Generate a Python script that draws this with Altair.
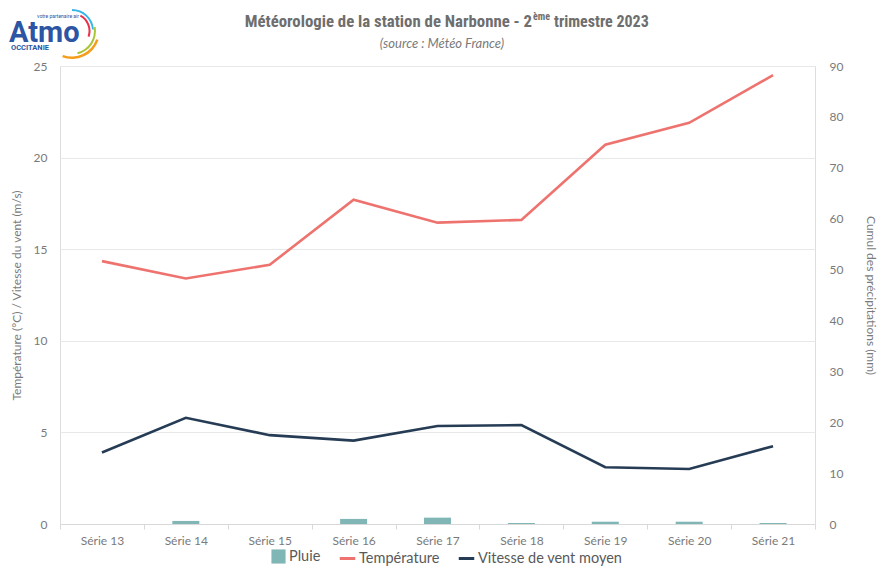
import altair as alt
import pandas as pd

series = ["Série 13", "Série 14", "Série 15", "Série 16", "Série 17",
          "Série 18", "Série 19", "Série 20", "Série 21"]
temperature = [14.35, 13.4, 14.15, 17.7, 16.45, 16.6, 20.7, 21.9, 24.5]
wind = [3.9, 5.8, 4.85, 4.55, 5.35, 5.4, 3.1, 3.0, 4.25]
rain = [0.0, 0.6, 0.0, 1.0, 1.25, 0.2, 0.45, 0.45, 0.2]

TEMP_C = "#EE736F"
WIND_C = "#263C55"
RAIN_C = "#80B6B6"
LABEL_C = "#7a7a7a"
FONT = "Lato"
TFONT = "Liberation Sans Narrow, Roboto Condensed, Arial Narrow, Roboto"

rain_df = pd.DataFrame({"serie": series, "pluie": rain, "k": ["Pluie"] * len(series)})
lines_df = pd.DataFrame({
    "serie": series * 2,
    "val": temperature + wind,
    "var": ["Température"] * len(series) + ["Vitesse de vent moyen"] * len(series),
})

x_enc = alt.X("serie:N", sort=series, title=None,
              scale=alt.Scale(paddingInner=0, paddingOuter=0),
              axis=alt.Axis(labelAngle=0, tickBand="extent", labelFont=FONT,
                            labelFontSize=12, labelColor=LABEL_C, labelPadding=6,
                            domainColor="#d9d9d9", tickColor="#d9d9d9", tickSize=5,
                            grid=False))

bars = alt.Chart(rain_df).mark_bar(size=27).encode(
    x=x_enc,
    y=alt.Y("pluie:Q", title="Cumul des précipitations (mm)",
            scale=alt.Scale(domain=[0, 90]),
            axis=alt.Axis(orient="right", values=list(range(0, 91, 10)), grid=False,
                          domain=False, ticks=False, labelPadding=14,
                          labelFont=FONT, labelFontSize=12, labelColor=LABEL_C,
                          titleFont=FONT, titleFontSize=12, titleColor=LABEL_C,
                          titleFontWeight="normal", titlePadding=21)),
    fill=alt.Fill("k:N", scale=alt.Scale(domain=["Pluie"], range=[RAIN_C]),
                  legend=alt.Legend(title=None, orient="none", legendX=211, legendY=483,
                                    symbolType="square", symbolSize=200,
                                    labelFont=FONT, labelFontSize=14.5, labelColor="#595959",
                                    labelOffset=3, symbolStrokeWidth=0)),
)

lines = alt.Chart(lines_df).mark_line(strokeWidth=2.6).encode(
    x=alt.X("serie:N", sort=series),
    y=alt.Y("val:Q", title="Température (°C) / Vitesse du vent (m/s)",
            scale=alt.Scale(domain=[0, 25]),
            axis=alt.Axis(values=[0, 5, 10, 15, 20, 25], grid=True, gridColor="#e8e8e8",
                          domain=False, ticks=False, labelPadding=13,
                          labelFont=FONT, labelFontSize=12, labelColor=LABEL_C,
                          titleFont=FONT, titleFontSize=12, titleColor=LABEL_C,
                          titleFontWeight="normal", titlePadding=10)),
    stroke=alt.Stroke("var:N",
                      scale=alt.Scale(domain=["Température", "Vitesse de vent moyen"],
                                      range=[TEMP_C, WIND_C]),
                      legend=alt.Legend(title=None, orient="none", legendX=278, legendY=483,
                                        direction="horizontal", symbolType="stroke",
                                        symbolSize=240, symbolStrokeWidth=3,
                                        columnPadding=12,
                                        labelFont=FONT, labelFontSize=14.5, labelColor="#595959",
                                        labelOffset=2)),
)

one = pd.DataFrame({"a": [0]})

# Title, drawn as text so that "ème" can be raised
title_a = alt.Chart(one).mark_text(
    text="Météorologie de la station de Narbonne - 2", font=TFONT, fontSize=16.8,
    fontWeight="bold", color="#6e6e6e", align="right", baseline="alphabetic"
).encode(x=alt.value(472), y=alt.value(-39))
title_b = alt.Chart(one).mark_text(
    text="ème", font=TFONT, fontSize=10, fontWeight="bold", color="#6e6e6e",
    align="left", baseline="alphabetic"
).encode(x=alt.value(473), y=alt.value(-46))
title_c = alt.Chart(one).mark_text(
    text="trimestre 2023", font=TFONT, fontSize=16, fontWeight="bold", color="#6e6e6e",
    align="left", baseline="alphabetic"
).encode(x=alt.value(494), y=alt.value(-39))
subtitle = alt.Chart(one).mark_text(
    text="(source : Météo France)", font=FONT, fontSize=13, fontStyle="italic",
    color="#7a7a7a", align="center", baseline="middle"
).encode(x=alt.value(382), y=alt.value(-22))

# Logo (decoration)
logo_atmo = alt.Chart(one).mark_text(text="Atmo", font="Roboto", fontSize=29, fontWeight="bold",
                                     color="#2C55A3", align="left",
                                     baseline="alphabetic").encode(x=alt.value(-51), y=alt.value(-24))
logo_occ = alt.Chart(one).mark_text(text="OCCITANIE", font="Roboto", fontSize=7.5, fontWeight="bold",
                                    color="#2C55A3", align="left",
                                    baseline="alphabetic").encode(x=alt.value(-49), y=alt.value(-16))
logo_part = alt.Chart(one).mark_text(text="votre partenaire air", font="Roboto", fontSize=5,
                                     color="#2C55A3", align="left",
                                     baseline="alphabetic").encode(x=alt.value(-23), y=alt.value(-48))
arc_specs = [
    (0.0, 1.5, 22, 20, "#35B6E8"),
    (0.5, 1.9, 18.5, 16.5, "#E8314A"),
    (1.4, 2.9, 24, 22, "#A8C536"),
    (1.9, 3.5, 28, 25.5, "#F59C1A"),
]
logo_arcs = []
for t1, t2, r1, r2, c in arc_specs:
    logo_arcs.append(
        alt.Chart(one).mark_arc(theta=t1, theta2=t2, radius=r1, radius2=r2,
                                color=c).encode(x=alt.value(12), y=alt.value(-35))
    )

chart = alt.layer(bars, lines, title_a, title_b, title_c, subtitle,
                  logo_atmo, logo_occ, logo_part, *logo_arcs).resolve_scale(
    y="independent", fill="independent", stroke="independent"
).properties(
    width=755, height=458,
    autosize=alt.AutoSizeParams(type="none"),
    padding={"left": 52, "top": 58, "right": 65, "bottom": 42},
).configure_view(stroke=None).configure(background="white")

chart.save("out.html", embed_options={"renderer": "svg", "actions": False})
